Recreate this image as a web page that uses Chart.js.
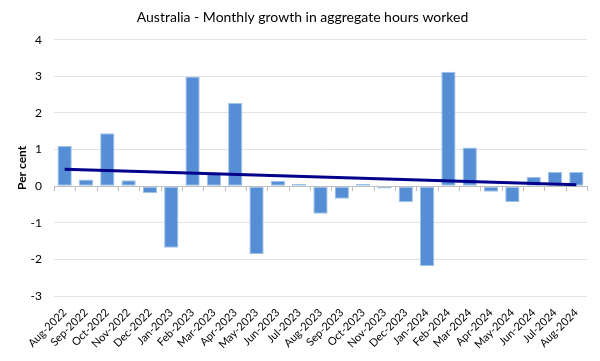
<!DOCTYPE html>
<html><head><meta charset="utf-8">
<script src="https://cdn.jsdelivr.net/npm/chart.js@4/dist/chart.umd.min.js"></script>
<style>html,body{margin:0;padding:0;background:#fff}#wrap{width:600px;height:361px}</style>
</head><body><div id="wrap"><canvas id="c" width="600" height="361"></canvas></div>
<script>
const categories = ["Aug-2022","Sep-2022","Oct-2022","Nov-2022","Dec-2022","Jan-2023","Feb-2023","Mar-2023","Apr-2023","May-2023","Jun-2023","Jul-2023","Aug-2023","Sep-2023","Oct-2023","Nov-2023","Dec-2023","Jan-2024","Feb-2024","Mar-2024","Apr-2024","May-2024","Jun-2024","Jul-2024","Aug-2024"];
const growth = [1.10,0.18,1.45,0.16,-0.19,-1.68,3.00,0.37,2.27,-1.85,0.15,0.06,-0.75,-0.34,0.06,-0.06,-0.44,-2.18,3.13,1.06,-0.15,-0.43,0.25,0.39,0.39];
const trendStart = 0.46, trendEnd = 0.04;
const trend = categories.map((_, i) => i === 0 ? trendStart : (i === categories.length - 1 ? trendEnd : null));
const yTicks = [-3,-2,-1,0,1,2,3,4];

const FONT = "Lato, 'Open Sans', sans-serif";

const zeroTicks = {
  id: 'zeroTicks',
  afterDatasetsDraw(chart) {
    const x = chart.scales.x, y = chart.scales.y;
    const ctx = chart.ctx;
    const y0 = y.getPixelForValue(0);
    const n = categories.length;
    const w = (x.getPixelForValue(n - 1) - x.getPixelForValue(0)) / (n - 1);
    ctx.save();
    ctx.strokeStyle = '#bfbfbf';
    ctx.lineWidth = 1;
    ctx.beginPath();
    for (let i = 0; i <= n; i++) {
      const px = Math.round(x.getPixelForValue(0) - w / 2 + i * w) + 0.5;
      ctx.moveTo(px, y0);
      ctx.lineTo(px, y0 + 5);
    }
    ctx.stroke();
    ctx.restore();
  }
};

new Chart(document.getElementById('c'), {
  data: {
    labels: categories,
    datasets: [
      {
        type: 'line',
        data: trend,
        borderColor: '#00008b',
        borderWidth: 3,
        pointRadius: 0,
        spanGaps: true,
        order: 0
      },
      {
        type: 'bar',
        data: growth,
        backgroundColor: '#558ed5',
        borderColor: '#9dc3e6',
        borderWidth: 1,
        borderSkipped: false,
        barPercentage: 0.67,
        categoryPercentage: 1.0,
        order: 1
      }
    ]
  },
  plugins: [zeroTicks],
  options: {
    responsive: false,
    animation: false,
    layout: { padding: { left: 18, right: 13, top: 0, bottom: 0 } },
    plugins: {
      legend: { display: false },
      tooltip: { enabled: false },
      title: {
        display: true,
        text: 'Australia - Monthly growth in aggregate hours worked',
        color: '#000',
        font: { family: FONT, size: 14, weight: 'normal' },
        padding: { top: 9, bottom: 14 }
      }
    },
    scales: {
      x: {
        grid: { display: false },
        border: { display: false },
        ticks: {
          color: '#000',
          font: { family: FONT, size: 11 },
          minRotation: 45, maxRotation: 45,
          autoSkip: false,
          padding: 2
        },
        afterFit(s) { s.height = 65; }
      },
      y: {
        min: -3, max: 4,
        afterBuildTicks(s) { s.ticks = yTicks.map(v => ({ value: v })); },
        grid: {
          color: ctx => ctx.tick && ctx.tick.value === 0 ? '#bfbfbf' : '#e3e3e3',
          lineWidth: 1,
          drawTicks: false
        },
        border: { display: false },
        ticks: {
          color: '#000',
          font: { family: FONT, size: 12 },
          padding: 12
        },
        title: {
          display: true,
          text: 'Per cent',
          color: '#000',
          font: { family: FONT, size: 12, weight: 'bold' },
          padding: { top: -3, bottom: 0 }
        },
        afterFit(s) { s.width = 36; }
      }
    }
  }
});
</script></body></html>
